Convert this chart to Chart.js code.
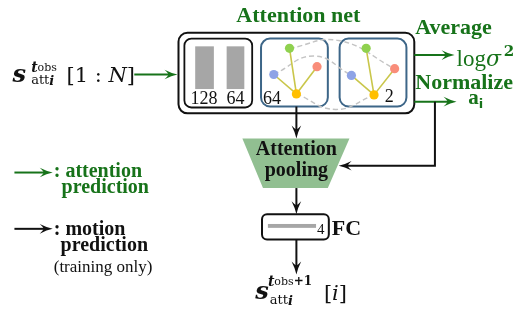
<!DOCTYPE html>
<html>
<head>
<meta charset="utf-8">
<script src="https://cdn.jsdelivr.net/npm/chart.js@4.4.0/dist/chart.umd.min.js"></script>
<style>
  html, body { margin: 0; padding: 0; background: #fff; }
  canvas { display: block; }
</style>
</head>
<body>
<canvas id="diagram" width="525" height="314"></canvas>
<script>
// --- graph content ---
const nodeColors = ['#8fd14f', '#8ea3e6', '#f98d7a', '#ffbf00'];
const layer1Nodes = [[290, 45], [274, 72], [318, 64], [297, 92]];
const layer2Nodes = [[368, 45], [353, 73], [397, 66], [376, 93]];
const hubIndex = 3; // yellow node links to the others
const dashedArcs = [
  [[290, 45], [340, 37], [397, 66]],
  [[274, 72], [315, 53], [353, 73]],
  [[297, 92], [337, 108], [376, 93]]
];
const mlpSizes = ['128', '64'];
const gnnSizes = ['64', '2'];
const fcSize = '4';

// --- layout ---
const GREEN = '#17731a';
const BLACK = '#111';
const SERIF = '"Liberation Serif", "Times New Roman", serif';
const MATH = '"DejaVu Serif", serif';

const roundBoxes = [ // x, y, w, h, r, color, width
  [177, 29, 240, 83, 9, BLACK, 2],
  [183, 35, 69, 71, 7, BLACK, 1.8],
  [261, 35, 68, 70, 9, '#3d6688', 2],
  [341, 35, 68, 70, 9, '#3d6688', 2],
  [262, 216, 68, 26, 5, BLACK, 2]
];
const grayBars = [[194, 43, 19, 44], [226, 43, 18, 44], [268, 226, 49, 4]];
const poolShape = [[242, 138], [351, 138], [329, 189], [263, 189]];
const arrows = [ // points, color
  [[[132, 72], [176, 72]], GREEN],
  [[[417, 52], [458, 52]], GREEN],
  [[[417, 100], [460, 100]], GREEN],
  [[[438, 100], [438, 166], [340, 166]], BLACK],
  [[[297, 105], [297, 138]], BLACK],
  [[[297, 189], [297, 216]], BLACK],
  [[[297, 242], [297, 278]], BLACK],
  [[[10, 173], [49, 173]], GREEN],
  [[[10, 231], [49, 231]], BLACK]
];

const pt = ([x, y]) => ({ x, y });

const datasets = [{
  data: [...layer1Nodes, ...layer2Nodes].map(pt),
  pointRadius: 4.6,
  pointBackgroundColor: [...nodeColors, ...nodeColors],
  pointBorderWidth: 0,
  showLine: false
}];
[layer1Nodes, layer2Nodes].forEach(nodes => {
  nodes.forEach((n, i) => {
    if (i === hubIndex) return;
    datasets.push({
      data: [pt(nodes[hubIndex]), pt(n)],
      showLine: true, borderColor: '#c9c64a', borderWidth: 1.6, pointRadius: 0
    });
  });
});
dashedArcs.forEach(arc => {
  datasets.push({
    data: arc.map(pt),
    showLine: true, tension: 0.45, borderColor: '#c4c4c4', borderWidth: 1.4,
    borderDash: [5, 3], pointRadius: 0
  });
});

function runs(ctx, x, y, parts, color) {
  ctx.fillStyle = color || BLACK;
  ctx.textAlign = 'left';
  for (const [t, f, dy] of parts) {
    ctx.font = f;
    ctx.fillText(t, x, y + (dy || 0));
    x += ctx.measureText(t).width;
  }
  return x;
}

function arrowHead(ctx, x, y, ang, color) {
  ctx.save();
  ctx.translate(x, y);
  ctx.rotate(ang);
  ctx.beginPath();
  ctx.moveTo(0, 0);
  ctx.quadraticCurveTo(-6, -1.2, -13, -4.8);
  ctx.quadraticCurveTo(-9.5, -1.5, -9, 0);
  ctx.quadraticCurveTo(-9.5, 1.5, -13, 4.8);
  ctx.quadraticCurveTo(-6, 1.2, 0, 0);
  ctx.closePath();
  ctx.fillStyle = color;
  ctx.fill();
  ctx.restore();
}

const diagramPlugin = {
  id: 'diagram',
  beforeDatasetsDraw(chart) {
    const { ctx, scales: { x: sx, y: sy } } = chart;
    const X = v => sx.getPixelForValue(v), Y = v => sy.getPixelForValue(v);
    ctx.save();
    // trapezoid
    ctx.beginPath();
    poolShape.forEach(([a, b], i) => i ? ctx.lineTo(X(a), Y(b)) : ctx.moveTo(X(a), Y(b)));
    ctx.closePath();
    ctx.fillStyle = '#91bf91';
    ctx.fill();
    // boxes
    roundBoxes.forEach(([x, y, w, h, r, c, lw]) => {
      ctx.beginPath();
      ctx.roundRect(X(x), Y(y), X(x + w) - X(x), Y(y + h) - Y(y), r);
      ctx.fillStyle = '#fff';
      ctx.fill();
      ctx.lineWidth = lw;
      ctx.strokeStyle = c;
      ctx.stroke();
    });
    ctx.fillStyle = '#a6a6a6';
    grayBars.forEach(([x, y, w, h]) => ctx.fillRect(X(x), Y(y), X(x + w) - X(x), Y(y + h) - Y(y)));
    ctx.restore();
  },
  afterDatasetsDraw(chart) {
    const { ctx, scales: { x: sx, y: sy } } = chart;
    const X = v => sx.getPixelForValue(v), Y = v => sy.getPixelForValue(v);
    ctx.save();
    // arrows
    arrows.forEach(([pts, c]) => {
      const n = pts.length;
      const [ax, ay] = pts[n - 2], [bx, by] = pts[n - 1];
      const ang = Math.atan2(Y(by) - Y(ay), X(bx) - X(ax));
      ctx.beginPath();
      pts.forEach(([a, b], i) => {
        let px = X(a), py = Y(b);
        if (i === n - 1) { px -= Math.cos(ang) * 8; py -= Math.sin(ang) * 8; }
        i ? ctx.lineTo(px, py) : ctx.moveTo(px, py);
      });
      ctx.lineWidth = 2;
      ctx.strokeStyle = c;
      ctx.stroke();
      arrowHead(ctx, X(bx), Y(by), ang, c);
    });

    // texts
    ctx.textBaseline = 'alphabetic';
    ctx.fillStyle = GREEN;
    ctx.textAlign = 'center';
    ctx.font = 'bold 22px ' + SERIF;
    ctx.fillText('Attention net', X(299), Y(18));
    runs(ctx, X(418), Y(30), [['Average', 'bold 22px ' + SERIF]], GREEN);
    runs(ctx, X(418), Y(87), [['Normalize', 'bold 22px ' + SERIF]], GREEN);
    runs(ctx, X(460), Y(63), [['log', '23px ' + SERIF], ['σ', 'italic 22px ' + MATH], ['\u2009', '14px ' + MATH], ['2', 'bold 15px ' + MATH, -10]], GREEN);
    runs(ctx, X(472), Y(102), [['a', 'bold 21px ' + SERIF], ['i', 'bold 13px "DejaVu Sans", sans-serif', 4]], GREEN);

    // layer sizes
    ctx.fillStyle = BLACK;
    ctx.textAlign = 'center';
    ctx.font = '18px ' + SERIF;
    ctx.fillText(mlpSizes[0], X(203), Y(102));
    ctx.fillText(mlpSizes[1], X(235), Y(102));
    ctx.textAlign = 'left';
    ctx.fillText(gnnSizes[0], X(263), Y(102));
    ctx.fillText(gnnSizes[1], X(387), Y(100));
    ctx.font = '15px ' + SERIF;
    ctx.fillText(fcSize, X(318), Y(236));
    ctx.font = 'bold 22px ' + SERIF;
    ctx.fillText('FC', X(333), Y(237));

    ctx.textAlign = 'center';
    ctx.font = 'bold 20px ' + SERIF;
    ctx.fillText('Attention', X(297), Y(155));
    ctx.fillText('pooling', X(297), Y(177));

    // legend
    runs(ctx, X(50), Y(178), [[': attention', 'bold 20px ' + SERIF]], GREEN);
    runs(ctx, X(58), Y(194), [['prediction', 'bold 20px ' + SERIF]], GREEN);
    runs(ctx, X(50), Y(237), [[': motion', 'bold 20px ' + SERIF]]);
    runs(ctx, X(57), Y(254), [['prediction', 'bold 20px ' + SERIF]]);
    runs(ctx, X(50), Y(275), [['(training only)', '17px ' + SERIF]]);

    // input label
    runs(ctx, X(8), Y(80), [['s', 'bold italic 24px ' + MATH]]);
    runs(ctx, X(27), Y(69), [['t', 'bold italic 14px ' + MATH], ['obs', '11px ' + MATH, -1]]);
    runs(ctx, X(27), Y(82), [['att', '13px ' + MATH], ['i', 'bold italic 13px ' + MATH, 1]]);
    runs(ctx, X(63), Y(80), [['[1 : ', '21px ' + MATH], ['N', 'italic 21px ' + MATH], [']', '21px ' + MATH]]);

    // output label
    runs(ctx, X(255), Y(303), [['s', 'bold italic 24px ' + MATH]]);
    runs(ctx, X(268), Y(290), [['t', 'bold italic 14px ' + MATH], ['obs', '11px ' + MATH, -1], ['+1', 'bold 12px ' + MATH, -1]]);
    runs(ctx, X(270), Y(308), [['att', '13px ' + MATH], ['i', 'bold italic 13px ' + MATH, 1]]);
    runs(ctx, X(325), Y(304), [['[', '21px ' + MATH], ['i', 'italic 21px ' + MATH], [']', '21px ' + MATH]]);
    ctx.restore();
  }
};

new Chart(document.getElementById('diagram').getContext('2d'), {
  type: 'scatter',
  data: { datasets },
  options: {
    responsive: false,
    animation: false,
    devicePixelRatio: 1,
    layout: { padding: 0 },
    plugins: { legend: { display: false }, tooltip: { enabled: false } },
    scales: {
      x: { type: 'linear', min: 0, max: 525, display: false },
      y: { type: 'linear', min: 0, max: 314, reverse: true, display: false }
    }
  },
  plugins: [diagramPlugin]
});
</script>
</body>
</html>
